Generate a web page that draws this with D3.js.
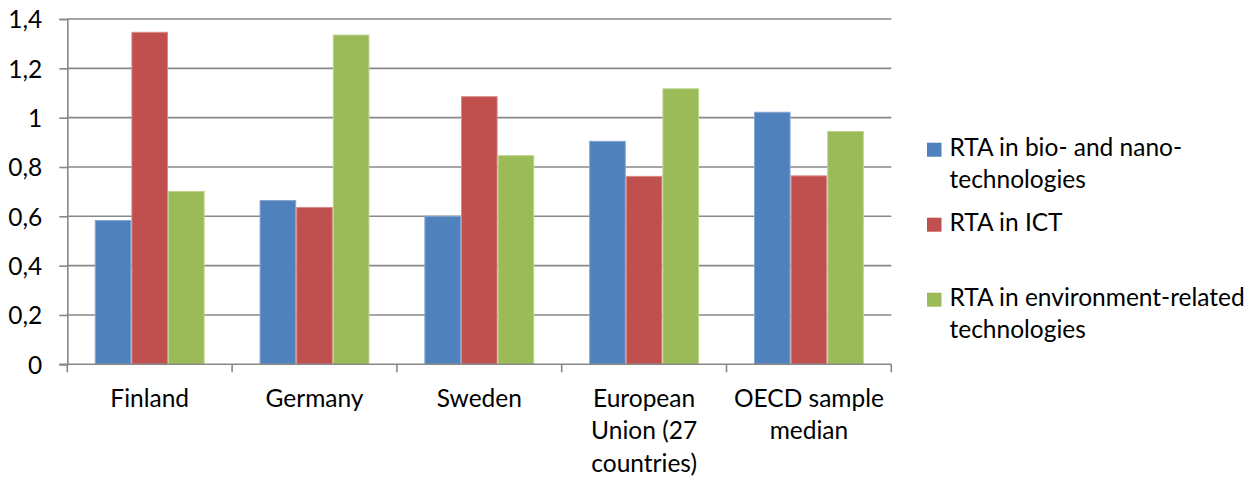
<!DOCTYPE html>
<html>
<head>
<meta charset="utf-8">
<script src="https://cdn.jsdelivr.net/npm/d3@7"></script>
<style>
  body { margin: 0; background: #fff; }
  text { font-family: Lato, "Open Sans", sans-serif; fill: #000; }
</style>
</head>
<body>
<div id="chart"></div>
<script>
// values
var categories = ["Finland", "Germany", "Sweden", "European Union (27 countries)", "OECD sample median"]
var categoryLines = [["Finland"], ["Germany"], ["Sweden"], ["European", "Union (27", "countries)"], ["OECD sample", "median"]]
var seriesNames = ["RTA in bio- and nano-technologies", "RTA in ICT", "RTA in environment-related technologies"]
var legendLines = [["RTA in bio- and nano-", "technologies"], ["RTA in ICT"], ["RTA in environment-related", "technologies"]]
var bioNano = [0.585, 0.666, 0.602, 0.906, 1.024]
var ict = [1.348, 0.638, 1.087, 0.764, 0.766]
var environment = [0.703, 1.337, 0.848, 1.119, 0.946]
var yTicks = [0, 0.2, 0.4, 0.6, 0.8, 1, 1.2, 1.4]
var yTickLabels = ["0", "0,2", "0,4", "0,6", "0,8", "1", "1,2", "1,4"]

var COLORS = ["#4F81BD", "#C0504D", "#9BBB59"]
var EDGES = ["#86a7d3", "#d98a88", "#bdd48f"]
var GRID = "#888888"
var FONT = "24.5px"

var W = 1259, H = 477
var MARGIN = {TOP: 19, LEFT: 67.3, RIGHT: 367.7, BOTTOM: 112.7}
var PW = W - MARGIN.LEFT - MARGIN.RIGHT,
  PH = H - MARGIN.TOP - MARGIN.BOTTOM

var svg = d3.select("#chart").append("svg")
  .attr("width", W)
  .attr("height", H)

var g = svg.append("g")
  .attr("transform", "translate(" + MARGIN.LEFT + "," + MARGIN.TOP + ")")

var series = [bioNano, ict, environment]
var data = categories.map(function(c, i) {
  return {key: c, values: series.map(function(s, j) { return {name: seriesNames[j], value: s[i], idx: j} })}
})

var y = d3.scaleLinear().domain([0, 1.4]).range([PH, 0])

// excel gap width 150% -> group of 3 bars + 1.5 bars of gap
var x0 = d3.scaleBand().domain(categories).range([0, PW])
  .paddingInner(1 / 3).paddingOuter(1 / 6)
var x1 = d3.scaleBand().domain(seriesNames).range([0, x0.bandwidth()])

// gridlines
g.append("g").selectAll("line")
  .data(yTicks.slice(1))
  .enter().append("line")
  .attr("x1", 0).attr("x2", PW)
  .attr("y1", function(d) { return y(d) })
  .attr("y2", function(d) { return y(d) })
  .style("stroke", GRID).style("stroke-width", 1.6)

// y axis
var yAxis = d3.axisLeft(y)
  .tickValues(yTicks)
  .tickFormat(function(d, i) { return yTickLabels[i] })
  .tickSize(8)
  .tickPadding(17)

var ya = g.append("g").call(yAxis)
ya.selectAll(".domain").style("stroke", GRID).style("stroke-width", 1.6)
ya.selectAll(".tick line").style("stroke", GRID).style("stroke-width", 1.6)
ya.selectAll(".tick text").style("font-size", FONT).attr("dy", "0.36em")

// bars
var groups = g.selectAll(".cat")
  .data(data)
  .enter().append("g")
  .attr("class", "cat")
  .attr("transform", function(d) { return "translate(" + x0(d.key) + ",0)" })

groups.selectAll("rect")
  .data(function(d) { return d.values })
  .enter().append("rect")
  .attr("x", function(d) { return x1(d.name) + 0.5 })
  .attr("width", x1.bandwidth() - 1)
  .attr("y", function(d) { return y(d.value) + 0.5 })
  .attr("height", function(d) { return PH - y(d.value) - 0.5 })
  .style("fill", function(d) { return COLORS[d.idx] })
  .style("stroke", function(d) { return EDGES[d.idx] })
  .style("stroke-width", 1)

// x axis line + ticks between categories
var xa = g.append("g").attr("transform", "translate(0," + PH + ")")
xa.append("line")
  .attr("x1", -8).attr("x2", PW)
  .style("stroke", GRID).style("stroke-width", 1.6)
xa.selectAll(".xtick")
  .data(d3.range(categories.length + 1))
  .enter().append("line")
  .attr("class", "xtick")
  .attr("x1", function(i) { return i * x0.step() })
  .attr("x2", function(i) { return i * x0.step() })
  .attr("y1", 0).attr("y2", 8)
  .style("stroke", GRID).style("stroke-width", 1.6)

xa.selectAll(".xlabel")
  .data(categories)
  .enter().append("text")
  .attr("class", "xlabel")
  .attr("text-anchor", "middle")
  .style("font-size", FONT)
  .attr("transform", function(d) { return "translate(" + (x0(d) + x0.bandwidth() / 2) + ",42.7)" })
  .each(function(d, i) {
    var t = d3.select(this)
    categoryLines[i].forEach(function(line, k) {
      t.append("tspan").attr("x", 0).attr("y", k * 32.4).text(line)
    })
  })

// legend
var legend = svg.append("g").attr("transform", "translate(927,156)")
var items = legend.selectAll(".item")
  .data(seriesNames)
  .enter().append("g")
  .attr("class", "item")
  .attr("transform", function(d, i) { return "translate(0," + i * 75 + ")" })

items.append("rect")
  .attr("x", 0).attr("y", -13.3)
  .attr("width", 14.5).attr("height", 14)
  .style("fill", function(d, i) { return COLORS[i] })

items.append("text")
  .style("font-size", FONT)
  .each(function(d, i) {
    var t = d3.select(this)
    legendLines[i].forEach(function(line, k) {
      t.append("tspan").attr("x", 22.5).attr("y", k * 32.3).text(line)
    })
  })
</script>
</body>
</html>
